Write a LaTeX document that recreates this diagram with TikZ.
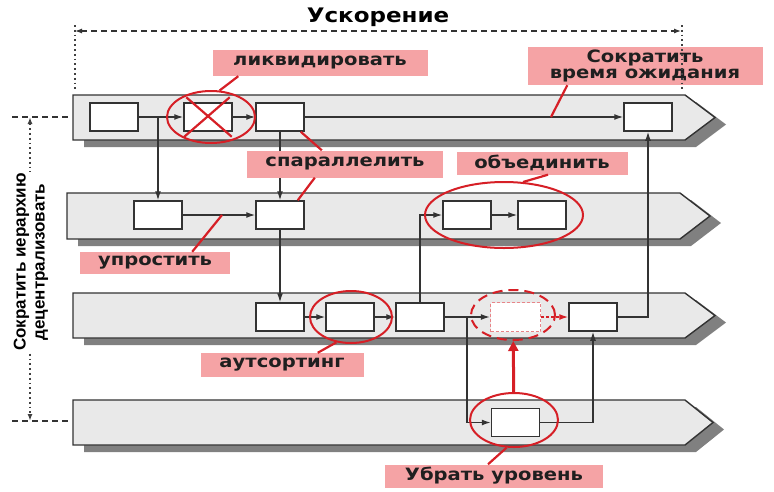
\documentclass[tikz,border=0pt]{standalone}
\usepackage{fontspec}
\setmainfont{DejaVu Sans}[FakeStretch=1.15]
\newfontfamily\sidefont{Liberation Sans}
\usetikzlibrary{arrows.meta,positioning,calc,shapes.geometric}
\definecolor{lanegray}{HTML}{E9E9E9}
\definecolor{shadowgray}{HTML}{808080}
\definecolor{edgegray}{HTML}{333333}
\definecolor{notered}{HTML}{D61F26}
\definecolor{notefill}{HTML}{F5A3A5}
\tikzset{
  lane/.style={fill=lanegray, draw=edgegray, line width=1.4pt},
  laneshadow/.style={fill=shadowgray},
  task/.style={draw=edgegray, fill=white, line width=1.5pt, minimum width=48pt, minimum height=28pt, inner sep=0pt},
  ghost/.style={draw=notered!55, dash pattern=on 3pt off 2pt, line width=1.3pt, fill=white, minimum width=50pt, minimum height=29pt, inner sep=0pt},
  flow/.style={edgegray, line width=1.3pt, -{Latex[length=9pt,width=6pt]}},
  ring/.style={ellipse, draw=notered, line width=2pt, inner sep=0pt},
  pointer/.style={notered, line width=2.2pt},
  note/.style={fill=notefill, text=black!88, font=\bfseries\fontsize{17}{16.5}\selectfont, inner sep=0pt},
  dimline/.style={black!80, line width=1.2pt, dash pattern=on 6pt off 4pt},
  guide/.style={black!75, line width=1.8pt, dash pattern=on 1.8pt off 3pt}
}
\begin{document}
\begin{tikzpicture}[x=1pt,y=-1pt]
\useasboundingbox (0,0) rectangle (774,491);
\foreach \l/\t/\b/\s/\p in {73/95/140/685/715, 67/193/239/680/710, 73/293/338/685/715, 73/400/445/685/713} {
  \fill[laneshadow] (\l+11,\t+7) -- (\s+11,\t+7) -- (\p+11,{(\t+\b)/2+7}) -- (\s+11,\b+7) -- (\l+11,\b+7) -- cycle;
  \draw[lane] (\l,\t) -- (\s,\t) -- (\p,{(\t+\b)/2}) -- (\s,\b) -- (\l,\b) -- cycle;
}

\node[task] (a1) at (114,117) {};
\node[task] (x1) at (208,117) {};
\node[task] (b1) at (280,117) {};
\node[task] (c1) at (648,117) {};
\node[task] (d2) at (158,215) {};
\node[task] (e2) at (280,215) {};
\node[task] (i2) at (467,215) {};
\node[task] (j2) at (542,215) {};
\node[task] (f3) at (280,317) {};
\node[task] (g3) at (350,317) {};
\node[task] (h3) at (420,317) {};
\node[ghost] (k3) at (515.5,317) {};
\node[task] (l3) at (593,317) {};
\node[task] (m4) at (515.5,422.5) {};

\coordinate (s1) at (158,117);
\coordinate (s3) at (467,317);
\draw[flow] (a1) -- (x1);
\draw[flow] (x1) -- (b1);
\draw[flow] (b1) -- (c1);
\draw[flow] (s1) -- (d2);
\draw[flow] (b1) -- (e2);
\draw[flow] (d2) -- (e2);
\draw[flow] (e2) -- (f3);
\draw[flow] (f3) -- (g3);
\draw[flow] (g3) -- (h3);
\draw[flow] (h3) |- (i2);
\draw[flow] (i2) -- (j2);
\draw[flow] (h3) -- (k3);
\draw[flow] (l3) -| (c1);
\draw[flow] (s3) |- (m4);
\draw[flow] (m4) -| (l3);
\draw[notered, line width=1.3pt, dash pattern=on 3pt off 2pt, -{Latex[length=9pt,width=6pt]}] (k3) -- (l3);

\node[ring, minimum width=88pt, minimum height=52pt] (xring) at (211,117) {};
\node[ring, minimum width=158pt, minimum height=66pt] (jring) at (504,215) {};
\node[ring, minimum width=82pt, minimum height=52pt] (gring) at (351,317) {};
\node[ring, dash pattern=on 10pt off 6pt, minimum width=84pt, minimum height=50pt] (kring) at (513,315) {};
\node[ring, minimum width=88pt, minimum height=54pt] (mring) at (514,420) {};
\draw[pointer] ($(x1.north west)+(3,-5)$) -- ($(x1.south east)+(-1,5)$);
\draw[pointer] ($(x1.north east)+(-3,-5)$) -- ($(x1.south west)+(1,5)$);
\draw[notered, line width=3pt, -{Triangle[length=10pt,width=10pt]}] (mring) -- (kring);

\node[note, minimum width=215pt, minimum height=26pt] (nLiq) at (320,63) {ликвидировать};
\node[note, minimum width=235pt, minimum height=38pt, align=center] (nWait) at (645,66) {Сократить\\время ожидания};
\node[note, minimum width=196pt, minimum height=27pt] (nPar) at (345,164) {спараллелить};
\node[note, minimum width=171pt, minimum height=23pt] (nJoin) at (542,163) {объединить};
\node[note, minimum width=150pt, minimum height=22pt] (nSimp) at (155,263) {упростить};
\node[note, minimum width=163pt, minimum height=24pt] (nOut) at (282,365) {аутсортинг};
\node[note, minimum width=218pt, minimum height=23pt] (nDrop) at (494,476) {Убрать уровень};

\coordinate (w1) at (551,117);
\coordinate (u2) at (222,215);
\draw[pointer] ($(nLiq.south west)+(26,0)$) -- (xring.72);
\draw[pointer] ($(nWait.south west)+(40,0)$) -- (w1);
\draw[pointer] ($(nPar.north west)+(75,0)$) -- ($(b1.south east)+(-4,0)$);
\draw[pointer] ($(nPar.south west)+(68,0)$) -- ($(e2.north east)+(-7,0)$);
\draw[pointer] ($(nJoin.south)+(6,0)$) -- (jring.60);
\draw[pointer] ($(nSimp.north east)+(-38,0)$) -- (u2);
\draw[pointer] ($(nOut.north east)+(-46,0)$) -- (gring.240);
\draw[pointer] ($(nDrop.north)+(-6,0)$) -- (mring.255);

\node[font=\bfseries\fontsize{20}{22}\selectfont] (tAcc) at (378,17) {Ускорение};
\coordinate (tl) at (75,31);
\coordinate (tr) at (681,31);
\draw[dimline, {Latex[length=7pt,width=5pt]}-{Latex[length=7pt,width=5pt]}] (tl) -- (tr);
\draw[guide] (75,25) -- (75,92);
\draw[guide] (682,25) -- (682,92);

\coordinate (lt) at (30,117);
\coordinate (lb) at (30,421);
\draw[guide, {Latex[length=7pt,width=5pt]}-{Latex[length=7pt,width=5pt]}] (lt) -- (lb);
\draw[dimline] (12,117) -- (70,117);
\draw[dimline] (12,421) -- (70,421);
\node[fill=white, rotate=90, align=center, inner sep=1pt, font=\sidefont\bfseries\fontsize{17}{19}\selectfont] (tHier) at (31,262) {Сократить иерархию\\децентрализовать};
\end{tikzpicture}
\end{document}
